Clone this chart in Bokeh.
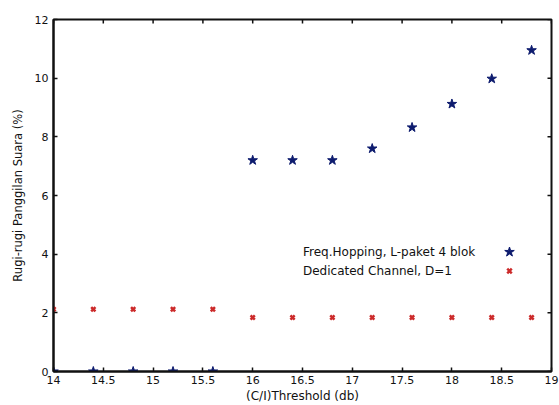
import math
from bokeh.plotting import figure
from bokeh.models import FixedTicker, Legend, LegendItem, Range1d
from bokeh.embed import file_html
from bokeh.resources import INLINE

# ---- data ----
threshold = [14.0, 14.4, 14.8, 15.2, 15.6, 16.0, 16.4, 16.8, 17.2, 17.6, 18.0, 18.4, 18.8]
freq_hopping = [0.0, 0.0, 0.0, 0.0, 0.0, 7.2, 7.2, 7.2, 7.6, 8.32, 9.12, 9.98, 10.95]
dedicated = [2.12, 2.12, 2.12, 2.12, 2.12, 1.84, 1.84, 1.84, 1.84, 1.84, 1.84, 1.84, 1.84]

x_ticks = [14, 14.5, 15, 15.5, 16, 16.5, 17, 17.5, 18, 18.5, 19]
x_tick_labels = ["14", "14.5", "15", "15.5", "16", "16.5", "17", "17.5", "18", "18.5", "19"]
y_ticks = [0, 2, 4, 6, 8, 10, 12]
y_tick_labels = ["0", "2", "4", "6", "8", "10", "12"]

series_names = ["Freq.Hopping, L-paket 4 blok", "Dedicated Channel, D=1"]
x_label = "(C/I)Threshold (db)"
y_label = "Rugi-rugi Panggilan Suara (%)"

X_MIN, X_MAX = x_ticks[0], x_ticks[-1]
Y_MIN, Y_MAX = y_ticks[0], y_ticks[-1]

FONT = "DejaVu Sans"
INK = "#111111"
BLUE = "#0d1b6e"
RED = "#cc2a2a"

p = figure(width=559, height=405, output_backend="svg", toolbar_location=None,
           x_range=Range1d(X_MIN, X_MAX), y_range=Range1d(Y_MIN, Y_MAX),
           min_border_left=53, min_border_right=8, min_border_top=19, min_border_bottom=33)
p.background_fill_color = "white"
p.border_fill_color = "white"
p.xgrid.visible = False
p.ygrid.visible = False
p.outline_line_color = INK
p.outline_line_width = 2

def style_axis(ax, ticks, labels):
    ax.ticker = FixedTicker(ticks=ticks)
    ax.major_label_overrides = {t: l for t, l in zip(ticks, labels)}
    ax.axis_line_color = INK
    ax.axis_line_width = 2
    ax.major_tick_in = 4
    ax.major_tick_out = 0
    ax.major_tick_line_color = INK
    ax.major_tick_line_width = 1.5
    ax.minor_tick_line_color = None
    ax.major_label_text_font = FONT
    ax.major_label_text_color = INK
    ax.major_label_text_font_size = "11px"

# bottom
xa = p.xaxis[0]
style_axis(xa, x_ticks, x_tick_labels)
xa.major_label_standoff = 4
xa.axis_label = x_label
xa.axis_label_text_font = FONT
xa.axis_label_text_font_size = "12px"
xa.axis_label_text_font_style = "normal"
xa.axis_label_text_color = INK
xa.axis_label_standoff = 2

# left
ya = p.yaxis[0]
style_axis(ya, y_ticks, y_tick_labels)
ya.major_label_standoff = 5
ya.axis_label = y_label
ya.axis_label_text_font = FONT
ya.axis_label_text_font_size = "11.5px"
ya.axis_label_text_font_style = "normal"
ya.axis_label_text_color = INK
ya.axis_label_standoff = 7

# inward ticks on the top and right frame edges (half of each dash is clipped away)
p.scatter(x_ticks, [Y_MAX] * len(x_ticks), marker="dash", size=8, angle=math.pi / 2,
          line_color=INK, line_width=1.5)
p.scatter([X_MAX] * len(y_ticks), y_ticks, marker="dash", size=8, angle=0,
          line_color=INK, line_width=1.5)

r_fh = p.scatter(threshold, freq_hopping, marker="star", size=10,
                 fill_color=BLUE, line_color=BLUE, line_width=1)
r_dc = p.scatter(threshold, dedicated, marker="x", size=6,
                 line_color=RED, line_width=2.5)

# legend: text on the left, markers on the right
base = dict(padding=0, margin=0, border_line_color=None, background_fill_alpha=0,
            spacing=0, label_text_font=FONT, label_text_font_size="12px",
            label_text_color=INK, label_standoff=0)

leg_text = Legend(items=[LegendItem(label=series_names[0], renderers=[]),
                         LegendItem(label=series_names[1], renderers=[])],
                  location=(250, 91), glyph_width=0, glyph_height=19, label_height=19, **base)
# star marker (row centre ~119.5 px above frame bottom)
leg_star = Legend(items=[LegendItem(label=" ", renderers=[r_fh])],
                  location=(443, 107), glyph_width=26, glyph_height=25, label_height=25, **base)
# x marker (row centre ~100.5 px above frame bottom)
leg_x = Legend(items=[LegendItem(label=" ", renderers=[r_dc])],
               location=(448, 92), glyph_width=16, glyph_height=17, label_height=17, **base)
p.add_layout(leg_text, "center")
p.add_layout(leg_star, "center")
p.add_layout(leg_x, "center")

open("out.html", "w").write(file_html(p, INLINE))
